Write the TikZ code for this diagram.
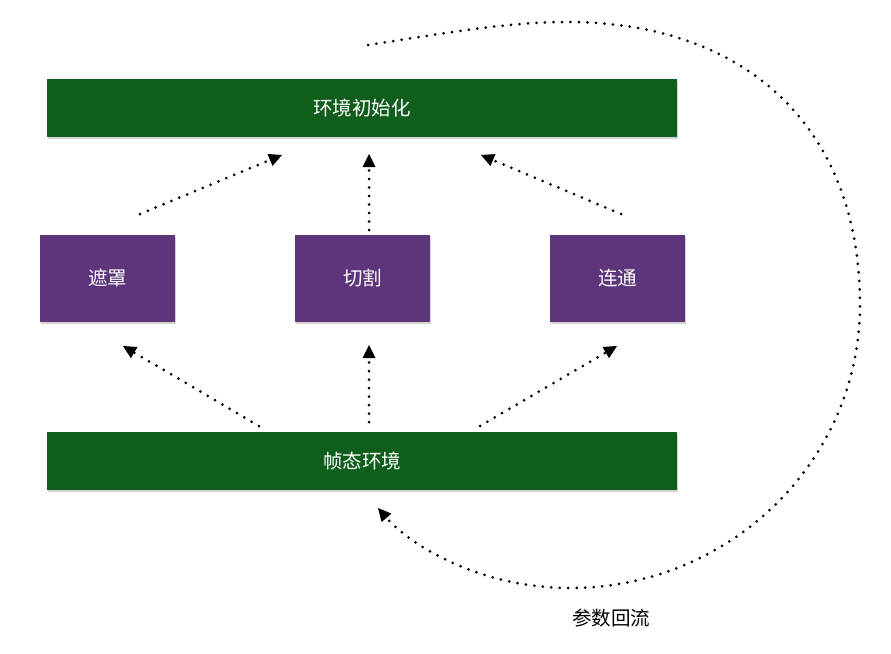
\documentclass[tikz,border=0pt]{standalone}
\usepackage{fontspec}
\newfontfamily\cjk{Noto Sans CJK SC}
\usetikzlibrary{arrows.meta,shadows}
\definecolor{envgreen}{HTML}{105E1C}
\definecolor{boxpurple}{HTML}{5E347B}
\begin{document}
\begin{tikzpicture}[x=1pt,y=-1pt,
  bar/.style={fill=envgreen,draw=none,minimum width=630pt,minimum height=58pt,inner sep=0pt,text=white,font=\cjk\fontsize{19.5pt}{22pt}\selectfont,drop shadow={opacity=0.35,shadow xshift=0.8pt,shadow yshift=-1.5pt}},
  op/.style={fill=boxpurple,draw=none,minimum width=135pt,minimum height=87pt,inner sep=0pt,text=white,font=\cjk\fontsize{19.5pt}{22pt}\selectfont,drop shadow={opacity=0.35,shadow xshift=0.8pt,shadow yshift=-1.5pt}},
  flow/.style={line width=3pt,line cap=round,dash pattern=on 0pt off 8.5pt,-{Triangle[length=13pt,width=13pt,line width=0pt]}}
]
\useasboundingbox (0,0) rectangle (891,653);
\node[bar] (init) at (362,108) {环境初始化};
\node[bar] (frame) at (362,461) {帧态环境};
\node[op] (mask) at (107.5,278.5) {遮罩};
\node[op] (cut) at (362.5,278.5) {切割};
\node[op] (conn) at (617.5,278.5) {连通};
\node[font=\cjk\fontsize{19.5pt}{22pt}\selectfont] (lbl) at (611,618) {参数回流};

\coordinate (a1s) at (140,214); \coordinate (a1e) at (282,155);
\coordinate (a2s) at (369,230); \coordinate (a2e) at (369,154);
\coordinate (a3s) at (621,214); \coordinate (a3e) at (481,155);
\coordinate (b1s) at (259,426); \coordinate (b1e) at (123,346);
\coordinate (b2s) at (369,422); \coordinate (b2e) at (369,345);
\coordinate (b3s) at (480,426); \coordinate (b3e) at (617,346);
\coordinate (cs) at (368,45); \coordinate (ce) at (378,508);

\draw[flow] (a1s) -- (a1e);
\draw[flow] (a2s) -- (a2e);
\draw[flow] (a3s) -- (a3e);
\draw[flow] (b1s) -- (b1e);
\draw[flow] (b2s) -- (b2e);
\draw[flow] (b3s) -- (b3e);
\draw[flow] (cs) .. controls (440,34) and (505,22) .. (567,22)
  .. controls (749,22) and (860,130) .. (860,305)
  .. controls (860,461) and (730,588) .. (570,588)
  .. controls (480,588) and (410,545) .. (ce);
\end{tikzpicture}
\end{document}
